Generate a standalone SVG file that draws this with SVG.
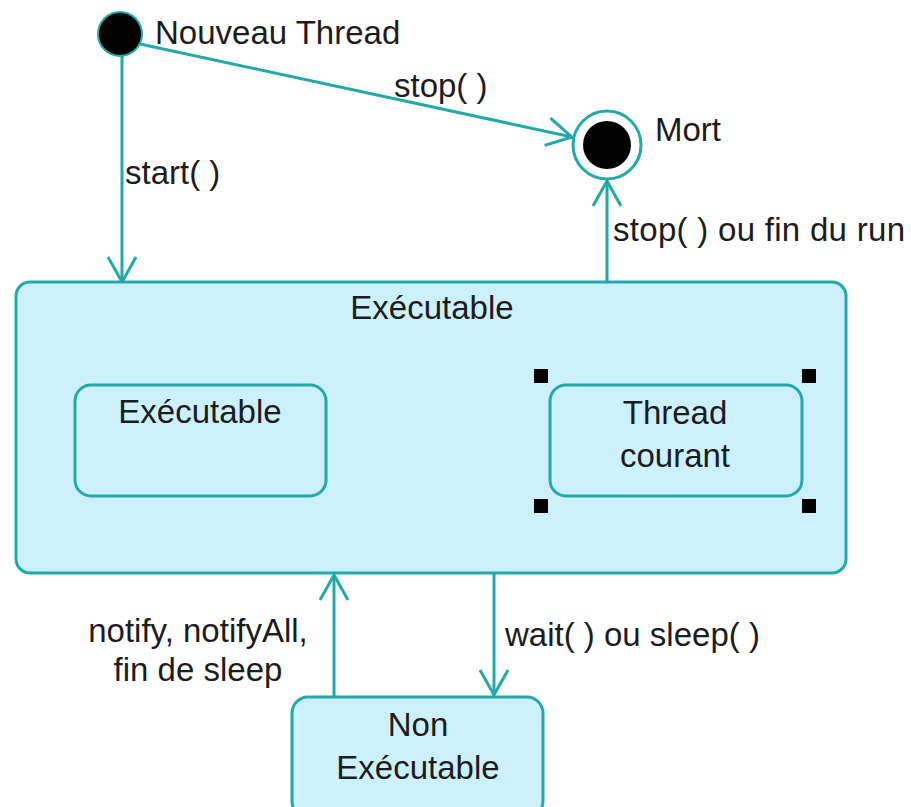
<svg xmlns="http://www.w3.org/2000/svg" width="911" height="807" viewBox="0 0 911 807">
  <style>
    .state { fill: #cdf1fc; stroke: #22a9a9; stroke-width: 3; }
    .edge { fill: none; stroke: #22a9a9; stroke-width: 3; marker-end: url(#open); }
    text { font-family: "Liberation Sans", Arial, sans-serif; font-size: 33px; fill: #1c1c1c; }
    .c { text-anchor: middle; }
    .handle { fill: #000; }
  </style>
  <defs>
    <marker id="open" markerUnits="userSpaceOnUse" markerWidth="32" markerHeight="34" viewBox="0 0 32 34" refX="27" refY="17" orient="auto">
      <path d="M 2 3 L 27 17 L 2 31" fill="none" stroke="#22a9a9" stroke-width="3"/>
    </marker>
  </defs>
  <rect width="911" height="807" fill="#ffffff"/>

  <!-- transitions -->
  <g id="connectors">
    <line class="edge" x1="122" y1="56" x2="122" y2="282"/>
    <line class="edge" x1="140" y1="44" x2="572" y2="137"/>
    <line class="edge" x1="607" y1="282" x2="607" y2="181"/>
    <line class="edge" x1="550" y1="411" x2="328" y2="411"/>
    <line class="edge" x1="326" y1="470" x2="549" y2="470"/>
    <line class="edge" x1="334" y1="697" x2="334" y2="575"/>
    <line class="edge" x1="494" y1="573" x2="494" y2="695"/>
  </g>

  <g id="labels">
    <text x="125" y="184">start( )</text>
    <text x="394" y="97">stop( )</text>
    <text x="613" y="241" textLength="292">stop( ) ou fin du run</text>
    <text x="198" y="642" class="c">notify, notifyAll,</text>
    <text x="198" y="681" class="c">fin de sleep</text>
    <text x="505" y="646">wait( ) ou sleep( )</text>
  </g>

  <!-- initial state -->
  <g id="start">
    <circle cx="120" cy="34" r="22" fill="#000" stroke="#22a9a9" stroke-width="2"/>
    <text x="155" y="44">Nouveau Thread</text>
  </g>

  <!-- final state -->
  <g id="end">
    <circle cx="607" cy="145" r="34" fill="#fff" stroke="#22a9a9" stroke-width="3"/>
    <circle cx="607" cy="145" r="24" fill="#000"/>
    <text x="655" y="141">Mort</text>
  </g>

  <!-- composite state -->
  <g id="executable">
    <rect class="state" x="16" y="282" width="830" height="291" rx="14"/>
    <text x="432" y="319" class="c">Exécutable</text>
  </g>

  <g id="executable-inner">
    <rect class="state" x="75" y="385" width="251" height="111" rx="16"/>
    <text x="200" y="423" class="c">Exécutable</text>
  </g>

  <g id="thread-courant">
    <rect class="state" x="550" y="385" width="252" height="111" rx="16"/>
    <text x="675" y="424" class="c">Thread</text>
    <text x="675" y="467" class="c">courant</text>
    <rect class="handle" x="534" y="369" width="14" height="14"/>
    <rect class="handle" x="802" y="369" width="14" height="14"/>
    <rect class="handle" x="534" y="499" width="14" height="14"/>
    <rect class="handle" x="802" y="499" width="14" height="14"/>
  </g>

  <g id="non-executable">
    <rect class="state" x="292" y="697" width="251" height="120" rx="16"/>
    <text x="418" y="736" class="c">Non</text>
    <text x="418" y="779" class="c">Exécutable</text>
  </g>
</svg>
